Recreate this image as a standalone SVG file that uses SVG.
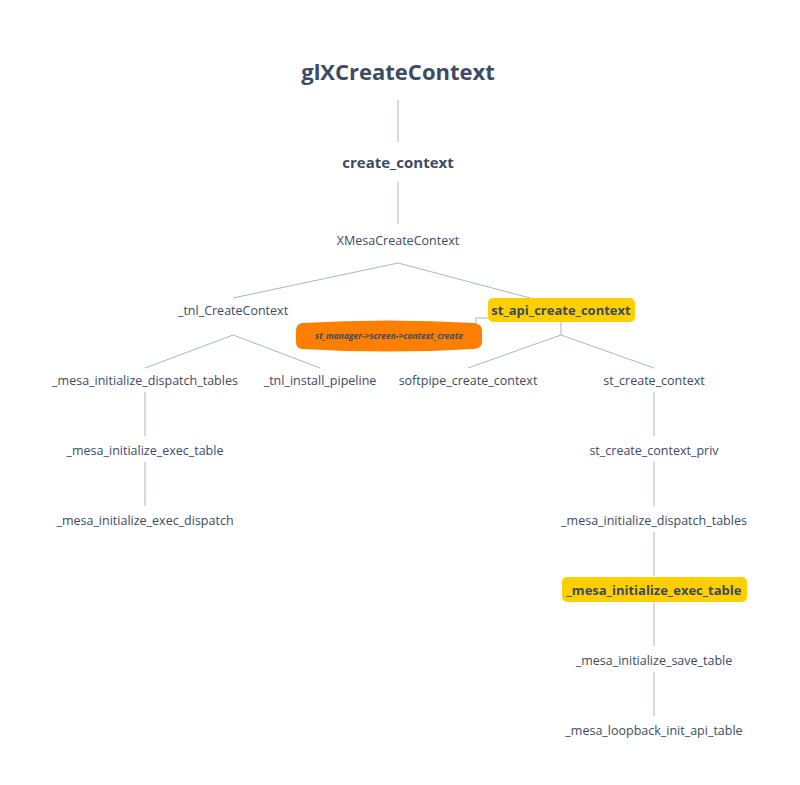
<svg xmlns="http://www.w3.org/2000/svg" width="800" height="785" viewBox="0 0 800 785">
<style>
text{font-family:"Open Sans","Liberation Sans",sans-serif;fill:#3d4a63;text-anchor:middle}
.n{font-size:12.5px}
.b{font-weight:bold}
#conn path,#conn line{stroke:#a9b5c8;stroke-width:1;fill:none}
</style>
<rect width="800" height="785" fill="#fff"/>
<g id="conn">
<line x1="398" y1="100" x2="398" y2="142"/>
<line x1="398" y1="182" x2="398" y2="224"/>
<path d="M233,298 L398,263 L530,298"/>
<path d="M145,368 L233,335 L320,368"/>
<path d="M468,368 L561,335 L654,368"/>
<line x1="561" y1="322" x2="561" y2="335"/>
<path d="M488,318 L476,318 L476,324 L462,324"/>
<line x1="145" y1="392" x2="145" y2="436"/>
<line x1="145" y1="462" x2="145" y2="506"/>
<line x1="654" y1="392" x2="654" y2="436"/>
<line x1="654" y1="462" x2="654" y2="506"/>
<line x1="654" y1="532" x2="654" y2="576"/>
<line x1="654" y1="602" x2="654" y2="646"/>
<line x1="654" y1="672" x2="654" y2="716"/>
</g>
<g id="n1"><text x="398" y="80" font-size="22" class="b">glXCreateContext</text></g>
<g id="n2"><text x="398" y="168" font-size="15" class="b">create_context</text></g>
<g id="n3"><text x="398" y="245" class="n">XMesaCreateContext</text></g>
<g id="n4"><text x="233" y="315" class="n">_tnl_CreateContext</text></g>
<g id="n5"><rect x="488" y="298" width="147" height="24" rx="5" fill="#ffcf00"/><text x="561" y="315" font-size="13" class="b">st_api_create_context</text></g>
<g id="n6"><path d="M302,323 Q388,318 474,323 Q482,324 482,331 L482,342 Q482,348 474,349 Q388,354 302,349 Q296,348 296,342 L296,331 Q296,324 302,323 Z" fill="#fc7f00"/><text x="389" y="339" font-size="8.5" font-style="italic" class="b">st_manager-&gt;screen-&gt;context_create</text></g>
<g id="n7"><text x="145" y="385" class="n">_mesa_initialize_dispatch_tables</text></g>
<g id="n8"><text x="320" y="385" class="n">_tnl_install_pipeline</text></g>
<g id="n9"><text x="468" y="385" class="n">softpipe_create_context</text></g>
<g id="n10"><text x="654" y="385" class="n">st_create_context</text></g>
<g id="n11"><text x="145" y="455" class="n">_mesa_initialize_exec_table</text></g>
<g id="n12"><text x="145" y="525" class="n">_mesa_initialize_exec_dispatch</text></g>
<g id="n13"><text x="654" y="455" class="n">st_create_context_priv</text></g>
<g id="n14"><text x="654" y="525" class="n">_mesa_initialize_dispatch_tables</text></g>
<g id="n15"><rect x="562" y="577" width="185" height="25" rx="5" fill="#ffcf00"/><text x="654" y="595" font-size="13" class="b">_mesa_initialize_exec_table</text></g>
<g id="n16"><text x="654" y="665" class="n">_mesa_initialize_save_table</text></g>
<g id="n17"><text x="654" y="735" class="n">_mesa_loopback_init_api_table</text></g>
</svg>
